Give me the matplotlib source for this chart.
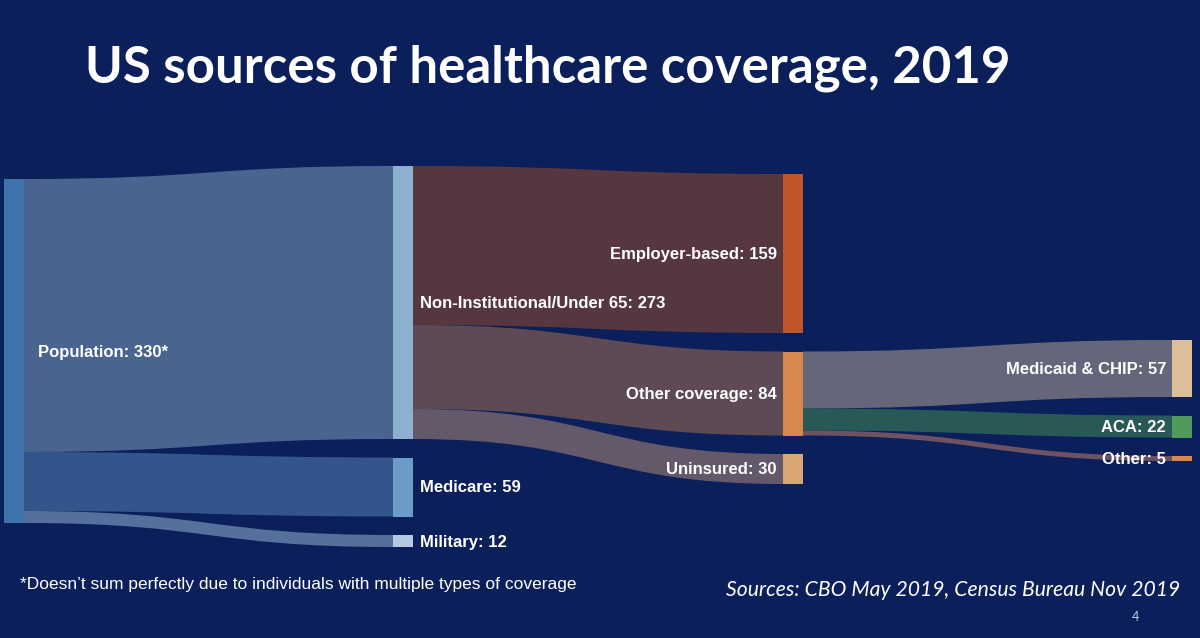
import matplotlib
matplotlib.use('Agg')
import matplotlib.pyplot as plt
from matplotlib.path import Path
from matplotlib.patches import PathPatch, Rectangle

# sankey data (millions of people)
node_names = ['Population', 'Non-Institutional/Under 65', 'Medicare', 'Military',
              'Employer-based', 'Other coverage', 'Uninsured',
              'Medicaid & CHIP', 'ACA', 'Other']
node_label_vals = ['330*', '273', '59', '12', '159', '84', '30', '57', '22', '5']
node_column = [0, 1, 1, 1, 2, 2, 2, 3, 3, 3]

link_src = [0, 0, 0, 1, 1, 1, 5, 5, 5]
link_tgt = [1, 2, 3, 4, 5, 6, 7, 8, 9]
link_val = [273, 59, 12, 159, 84, 30, 57, 22, 5]

node_colors = ['#3e73ab', '#8fb1d1', '#6b9bc7', '#b7c9e2',
               '#c1562a', '#d8884c', '#d9a676',
               '#dcbf99', '#4f9a5c', '#d8884c']
link_colors = ['#48648f', '#34558b', '#56709c',
               '#56363f', '#5d4a54', '#63596b',
               '#66667a', '#295957', '#6e5262']

bg = '#0b1f5b'

# layout (pixels)
col_x = [4, 393, 783, 1172]
col_top = [179, 166, 174, 340]
node_w = 20
gap = 18.5

fig = plt.figure(figsize=(12, 6.38), dpi=100)
fig.patch.set_facecolor(bg)
ax = fig.add_axes([0, 0, 1, 1])
ax.set_facecolor(bg)
ax.set_xlim(0, 1200)
ax.set_ylim(638, 0)
ax.axis('off')

n = len(node_names)
inflow = [0] * n
outflow = [0] * n
for s, t, v in zip(link_src, link_tgt, link_val):
    outflow[s] += v
    inflow[t] += v
heights = [max(i, o) for i, o in zip(inflow, outflow)]

# stack nodes per column
tops = [0] * n
cursor = list(col_top)
for i in range(n):
    c = node_column[i]
    tops[i] = cursor[c]
    cursor[c] += heights[i] + gap

# links
out_off = list(tops)
in_off = list(tops)
for s, t, v, col in zip(link_src, link_tgt, link_val, link_colors):
    x0 = col_x[node_column[s]] + node_w
    x1 = col_x[node_column[t]]
    xm = (x0 + x1) / 2
    y0 = out_off[s]
    y1 = in_off[t]
    out_off[s] += v
    in_off[t] += v
    verts = [(x0, y0), (xm, y0), (xm, y1), (x1, y1),
             (x1, y1 + v),
             (xm, y1 + v), (xm, y0 + v), (x0, y0 + v),
             (x0, y0)]
    codes = [Path.MOVETO, Path.CURVE4, Path.CURVE4, Path.CURVE4,
             Path.LINETO,
             Path.CURVE4, Path.CURVE4, Path.CURVE4,
             Path.CLOSEPOLY]
    ax.add_patch(PathPatch(Path(verts, codes), facecolor=col, edgecolor='none'))

# nodes + labels
for i in range(n):
    c = node_column[i]
    ax.add_patch(Rectangle((col_x[c], tops[i]), node_w, heights[i],
                           facecolor=node_colors[i], edgecolor='none'))
    label = node_names[i] + ': ' + node_label_vals[i]
    yc = tops[i] + heights[i] / 2 + 1
    if c < 2:
        ax.text(col_x[c] + node_w + 14 if c == 0 else col_x[c] + node_w + 7, yc, label,
                color='white', fontsize=12, fontweight='bold',
                family='Liberation Sans', ha='left', va='center')
    else:
        ax.text(col_x[c] - 6, yc, label, color='white', fontsize=12,
                fontweight='bold', family='Liberation Sans', ha='right', va='center')

ax.text(85, 83, 'US sources of healthcare coverage, 2019', color='white',
        fontsize=36.7, fontweight='bold', family='Lato', ha='left', va='baseline')
ax.text(20, 585, '*Doesn\u2019t sum perfectly due to individuals with multiple types of coverage',
        color='white', fontsize=12.5, family='Liberation Sans', ha='left', va='center')
ax.text(1180, 590, 'Sources: CBO May 2019, Census Bureau Nov 2019', color='white',
        fontsize=15.2, style='italic', family='Lato', ha='right', va='center')
ax.text(1135, 617, '4', color='#c8cde0', fontsize=9, family='Lato', ha='center', va='center')

fig.savefig('out.png', dpi=100, facecolor=bg)
